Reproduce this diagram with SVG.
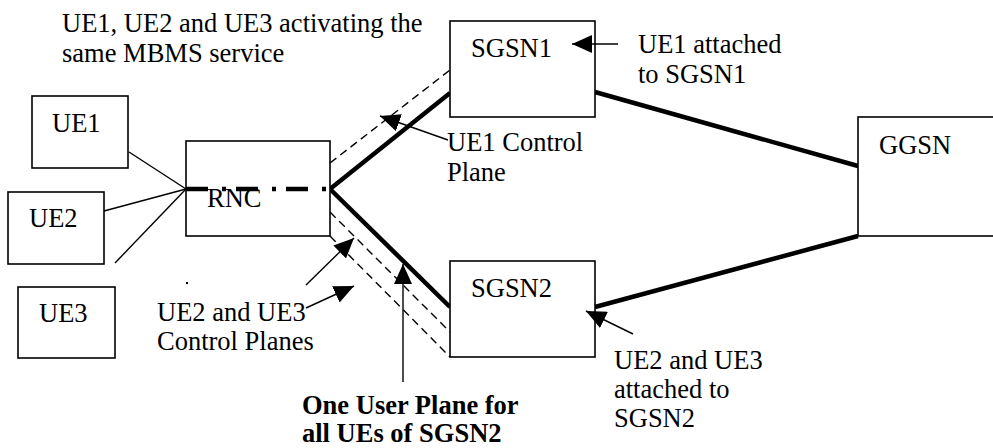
<svg xmlns="http://www.w3.org/2000/svg" width="993" height="448" viewBox="0 0 993 448">
<style>
  text { font-family: 'Liberation Serif', 'Tinos', 'Times New Roman', 'DejaVu Serif', serif; font-size: 26.5px; fill: #000; }
  .bold { font-weight: bold; }
  .box { fill: #fff; stroke: #000; stroke-width: 1.6; }
  .thin { stroke: #000; stroke-width: 1.4; fill: none; }
  .thick { stroke: #000; stroke-width: 4.5; fill: none; }
  .dash { stroke: #000; stroke-width: 1.4; fill: none; stroke-dasharray: 8 5; }
  .dashdot { stroke: #000; stroke-width: 4.5; fill: none; stroke-dasharray: 22 14 4 10; }
</style>
<defs>
  <marker id="ah" viewBox="0 0 20 18" refX="20" refY="9" markerWidth="20" markerHeight="18" markerUnits="userSpaceOnUse" orient="auto">
    <path d="M0,0 L20,9 L0,18 z" fill="#000"/>
  </marker>
</defs>
<rect width="993" height="448" fill="#fff"/>

<g id="connectors">
  <line class="thin" x1="129" y1="152" x2="186" y2="189"/>
  <line class="thin" x1="104" y1="211" x2="186" y2="189"/>
  <line class="thin" x1="115" y1="263" x2="186" y2="189"/>
  <line class="dash" x1="330" y1="163" x2="450" y2="70"/>
  <line class="thick" x1="330" y1="189" x2="450" y2="93"/>
  <line class="thick" x1="330" y1="189" x2="450" y2="307"/>
  <line class="dash" x1="330" y1="212" x2="450" y2="332"/>
  <line class="dash" x1="330" y1="236" x2="450" y2="357"/>
  <line class="thick" x1="595" y1="92" x2="858" y2="166"/>
  <line class="thick" x1="595" y1="307" x2="858" y2="236"/>
</g>

<g id="UE1"><rect class="box" x="32" y="96" width="96" height="72"/><text x="52" y="132">UE1</text></g>
<g id="UE2"><rect class="box" x="8" y="192" width="96" height="72"/><text x="29" y="227">UE2</text></g>
<g id="UE3"><rect class="box" x="18" y="287" width="97" height="71"/><text x="39" y="322">UE3</text></g>
<g id="RNC"><rect class="box" x="186" y="141" width="144" height="95"/><text x="207" y="207">RNC</text></g>
<g id="SGSN1"><rect class="box" x="450" y="21" width="145" height="96"/><text x="471" y="57">SGSN1</text></g>
<g id="SGSN2"><rect class="box" x="450" y="261" width="145" height="96"/><text x="471" y="297">SGSN2</text></g>
<g id="GGSN"><rect class="box" x="858" y="117" width="150" height="119"/><text x="879" y="154">GGSN</text></g>

<g id="rnc-userplane">
  <line class="dashdot" x1="186" y1="189" x2="330" y2="189"/>
</g>

<g id="labels">
  <text x="62" y="32">UE1, UE2 and UE3 activating the</text>
  <text x="62" y="62">same MBMS service</text>
  <line class="thin" x1="618" y1="44" x2="572" y2="44" marker-end="url(#ah)"/>
  <text x="638" y="53">UE1 attached</text>
  <text x="638" y="83">to SGSN1</text>
  <line class="thin" x1="448" y1="140" x2="380" y2="116" marker-end="url(#ah)"/>
  <text x="447" y="151">UE1 Control</text>
  <text x="447" y="181">Plane</text>
  <line class="thin" x1="306" y1="285" x2="354" y2="238" marker-end="url(#ah)"/>
  <line class="thin" x1="306" y1="308" x2="354" y2="286" marker-end="url(#ah)"/>
  <text x="157" y="321">UE2 and UE3</text>
  <text x="157" y="350">Control Planes</text>
  <line class="thin" x1="403" y1="382" x2="403" y2="264" marker-end="url(#ah)"/>
  <text class="bold" x="302" y="414">One User Plane for</text>
  <text class="bold" x="302" y="442">all UEs of SGSN2</text>
  <line class="thin" x1="633" y1="334" x2="586" y2="311" marker-end="url(#ah)"/>
  <text x="614" y="369">UE2 and UE3</text>
  <text x="614" y="398">attached to</text>
  <text x="614" y="427">SGSN2</text>
  <rect x="186" y="282" width="2" height="2" fill="#000"/>
</g>
</svg>
